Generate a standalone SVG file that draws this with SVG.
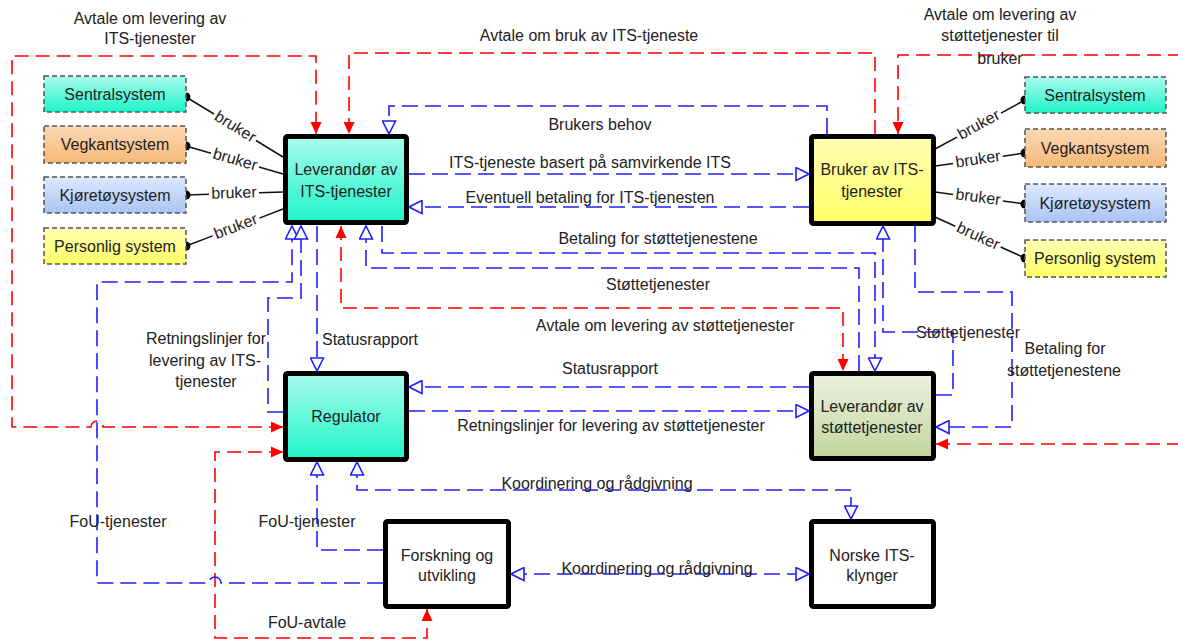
<svg xmlns="http://www.w3.org/2000/svg" width="1178" height="640" viewBox="0 0 1178 640">
  <style>
    text { font-family: "Liberation Sans", Arial, sans-serif; font-size: 16px; fill: #222; text-anchor: middle; }
    .node rect { stroke: #000; stroke-width: 5; }
    .sys rect { stroke: #555; stroke-width: 1.5; stroke-dasharray: 5 3; }
    .blue { fill: none; stroke: #1f1fff; stroke-width: 1.6; stroke-dasharray: 16 7; }
    .red { fill: none; stroke: #ff0000; stroke-width: 1.6; stroke-dasharray: 14 7; }
    .use line { stroke: #111; stroke-width: 1.5; }
    .use circle { fill: #000; }
  </style>
  <defs>
    <linearGradient id="gCyan" x1="0" y1="0" x2="0" y2="1">
      <stop offset="0" stop-color="#aafbec"/><stop offset="1" stop-color="#1ef5c8"/>
    </linearGradient>
    <linearGradient id="gYellow" x1="0" y1="0" x2="0" y2="1">
      <stop offset="0" stop-color="#ffffb4"/><stop offset="1" stop-color="#ffff66"/>
    </linearGradient>
    <linearGradient id="gGreen" x1="0" y1="0" x2="0" y2="1">
      <stop offset="0" stop-color="#ecf2e0"/><stop offset="1" stop-color="#c2d59c"/>
    </linearGradient>
    <linearGradient id="gOrange" x1="0" y1="0" x2="0" y2="1">
      <stop offset="0" stop-color="#fcd8b4"/><stop offset="1" stop-color="#f6b878"/>
    </linearGradient>
    <linearGradient id="gBlue" x1="0" y1="0" x2="0" y2="1">
      <stop offset="0" stop-color="#dfe9ff"/><stop offset="1" stop-color="#a8c3f4"/>
    </linearGradient>
    <marker id="ra" viewBox="0 0 12 12" refX="12" refY="6" markerWidth="12" markerHeight="12" markerUnits="userSpaceOnUse" orient="auto-start-reverse">
      <path d="M0,0.5 L12,6 L0,11.5 Z" fill="#ff0000"/>
    </marker>
    <marker id="ba" viewBox="0 0 15 15" refX="14" refY="7.5" markerWidth="15" markerHeight="15" markerUnits="userSpaceOnUse" orient="auto-start-reverse">
      <path d="M1,1 L14,7.5 L1,14 Z" fill="#fff" stroke="#1f1fff" stroke-width="1.6"/>
    </marker>
  </defs>

  <rect width="1178" height="640" fill="#fff"/>

  <!-- connectors -->
  <g id="connectors">
    <!-- agreements (red) -->
    <path class="red" d="M283,427 H103 A6,6 0 0 0 91,427 H12 V56 H316 V134" marker-start="url(#ra)" marker-end="url(#ra)"/>
    <path class="red" d="M875,134 V53 H349 V134" marker-end="url(#ra)"/>
    <path class="red" d="M936,444 H1190 V55 H898 V134" marker-start="url(#ra)" marker-end="url(#ra)"/>
    <path class="red" d="M341,226 V308 H843 V371" marker-start="url(#ra)" marker-end="url(#ra)"/>
    <path class="red" d="M283,452 H215 V638 H427 V609" marker-start="url(#ra)" marker-end="url(#ra)"/>

    <!-- services and information flows (blue) -->
    <path class="blue" d="M827,134 V106 H389 V134" marker-end="url(#ba)"/>
    <path class="blue" d="M409,174 H809" marker-end="url(#ba)"/>
    <path class="blue" d="M809,207 H409" marker-end="url(#ba)"/>
    <path class="blue" d="M382,226 V253 H875 V371" marker-end="url(#ba)"/>
    <path class="blue" d="M859,371 V268 H366 V226" marker-end="url(#ba)"/>
    <path class="blue" d="M936,395 H953 V332 H883 V226" marker-end="url(#ba)"/>
    <path class="blue" d="M915,226 V292 H1012 V427 H936" marker-end="url(#ba)"/>
    <path class="blue" d="M383,583 H221 A6,6 0 0 0 209,583 H97 V282 H292 V226" marker-end="url(#ba)"/>
    <path class="blue" d="M283,412 H268 V298 H301 V226" marker-end="url(#ba)"/>
    <path class="blue" d="M317,226 V371" marker-end="url(#ba)"/>
    <path class="blue" d="M809,387 H409" marker-end="url(#ba)"/>
    <path class="blue" d="M409,411 H809" marker-end="url(#ba)"/>
    <path class="blue" d="M383,550 H317 V462" marker-end="url(#ba)"/>
    <path class="blue" d="M357,462 V490 H851 V519" marker-start="url(#ba)" marker-end="url(#ba)"/>
    <path class="blue" d="M511,574 H809" marker-start="url(#ba)" marker-end="url(#ba)"/>

    <!-- "bruker" links, left side -->
    <g class="use">
      <line x1="186" y1="97" x2="214" y2="114"/><line x1="256" y1="140.5" x2="283" y2="157"/>
      <text transform="translate(235,127.3) rotate(31.7)" y="4.5">bruker</text>
      <line x1="186" y1="146" x2="211" y2="153.2"/><line x1="259" y1="167" x2="283" y2="174"/>
      <text transform="translate(235,160.1) rotate(16.1)" y="4.5">bruker</text>
      <line x1="186" y1="195" x2="209" y2="194.3"/><line x1="259" y1="192.7" x2="283" y2="192"/>
      <text transform="translate(234,193.5) rotate(-1.8)" y="4.5">bruker</text>
      <line x1="186" y1="246" x2="212.6" y2="235.9"/><line x1="259.4" y1="218.1" x2="283" y2="209"/>
      <text transform="translate(236,227) rotate(-20.9)" y="4.5">bruker</text>
      <circle cx="186" cy="97" r="4.5"/><circle cx="186" cy="146" r="4.5"/>
      <circle cx="186" cy="195" r="4.5"/><circle cx="186" cy="246" r="4.5"/>
    </g>
    <!-- "bruker" links, right side -->
    <g class="use">
      <line x1="935" y1="149" x2="957" y2="137.1"/><line x1="1001" y1="113.2" x2="1025" y2="100"/>
      <text transform="translate(979,125.1) rotate(-28.6)" y="4.5">bruker</text>
      <line x1="935" y1="166" x2="953.2" y2="163.4"/><line x1="1002.8" y1="156.2" x2="1025" y2="153"/>
      <text transform="translate(978,159.8) rotate(-8.2)" y="4.5">bruker</text>
      <line x1="935" y1="192" x2="953.2" y2="194.4"/><line x1="1002.8" y1="201" x2="1025" y2="204"/>
      <text transform="translate(978,197.7) rotate(7.6)" y="4.5">bruker</text>
      <line x1="935" y1="217" x2="955.3" y2="226.2"/><line x1="1000.7" y1="247" x2="1025" y2="258"/>
      <text transform="translate(978,236.6) rotate(24.5)" y="4.5">bruker</text>
      <circle cx="1025" cy="100" r="4.5"/><circle cx="1025" cy="153" r="4.5"/>
      <circle cx="1025" cy="204" r="4.5"/><circle cx="1025" cy="258" r="4.5"/>
    </g>

    <!-- connector labels -->
    <g id="labels">
      <text x="150" y="24">Avtale om levering av</text>
      <text x="150" y="44">ITS-tjenester</text>
      <text x="589" y="41">Avtale om bruk av ITS-tjeneste</text>
      <text x="1000" y="20">Avtale om levering av</text>
      <text x="1000" y="41">støttetjenester til</text>
      <text x="1000" y="64">bruker</text>
      <text x="600" y="130">Brukers behov</text>
      <text x="590" y="168">ITS-tjeneste basert på samvirkende ITS</text>
      <text x="590" y="203">Eventuell betaling for ITS-tjenesten</text>
      <text x="658" y="244">Betaling for støttetjenestene</text>
      <text x="658" y="290">Støttetjenester</text>
      <text x="665" y="331">Avtale om levering av støttetjenester</text>
      <text x="322" y="345" style="text-anchor:start">Statusrapport</text>
      <text x="206" y="344">Retningslinjer for</text>
      <text x="205" y="366">levering av ITS-</text>
      <text x="206" y="387">tjenester</text>
      <text x="610" y="374">Statusrapport</text>
      <text x="611" y="431">Retningslinjer for levering av støttetjenester</text>
      <text x="968" y="338">Støttetjenester</text>
      <text x="1065" y="354">Betaling for</text>
      <text x="1064" y="376">støttetjenestene</text>
      <text x="597" y="489">Koordinering og rådgivning</text>
      <text x="657" y="574">Koordinering og rådgivning</text>
      <text x="118" y="527">FoU-tjenester</text>
      <text x="307" y="527">FoU-tjenester</text>
      <text x="307" y="628">FoU-avtale</text>
    </g>
  </g>

  <!-- systems used by the service provider -->
  <g id="sys-l-sentral" class="sys"><rect x="44" y="76" width="142" height="36" fill="url(#gCyan)"/><text x="115" y="100">Sentralsystem</text></g>
  <g id="sys-l-vegkant" class="sys"><rect x="44" y="126" width="142" height="37" fill="url(#gOrange)"/><text x="115" y="150">Vegkantsystem</text></g>
  <g id="sys-l-kjoretoy" class="sys"><rect x="44" y="177" width="142" height="36" fill="url(#gBlue)"/><text x="115" y="201">Kjøretøysystem</text></g>
  <g id="sys-l-personlig" class="sys"><rect x="44" y="228" width="142" height="36" fill="url(#gYellow)"/><text x="115" y="252">Personlig system</text></g>

  <!-- systems used by the service user -->
  <g id="sys-r-sentral" class="sys"><rect x="1025" y="77" width="141" height="36" fill="url(#gCyan)"/><text x="1095" y="101">Sentralsystem</text></g>
  <g id="sys-r-vegkant" class="sys"><rect x="1025" y="129" width="141" height="38" fill="url(#gOrange)"/><text x="1095" y="154">Vegkantsystem</text></g>
  <g id="sys-r-kjoretoy" class="sys"><rect x="1025" y="184" width="141" height="38" fill="url(#gBlue)"/><text x="1095" y="209">Kjøretøysystem</text></g>
  <g id="sys-r-personlig" class="sys"><rect x="1025" y="240" width="141" height="37" fill="url(#gYellow)"/><text x="1095" y="264">Personlig system</text></g>

  <!-- main actors -->
  <g id="leverandor-its" class="node">
    <rect x="285.5" y="136.5" width="121" height="86" rx="2" fill="url(#gCyan)"/>
    <text x="346" y="175">Leverandør av</text>
    <text x="346" y="197">ITS-tjenester</text>
  </g>
  <g id="bruker-its" class="node">
    <rect x="811.5" y="136.5" width="122" height="87" rx="2" fill="url(#gYellow)"/>
    <text x="872" y="175">Bruker av ITS-</text>
    <text x="872" y="197">tjenester</text>
  </g>
  <g id="regulator" class="node">
    <rect x="285.5" y="373.5" width="121" height="86" rx="2" fill="url(#gCyan)"/>
    <text x="346" y="422">Regulator</text>
  </g>
  <g id="leverandor-stotte" class="node">
    <rect x="811.5" y="373.5" width="122" height="85" rx="2" fill="url(#gGreen)"/>
    <text x="872" y="412">Leverandør av</text>
    <text x="872" y="433">støttetjenester</text>
  </g>
  <g id="forskning" class="node">
    <rect x="385.5" y="521.5" width="123" height="85" rx="2" fill="#fff"/>
    <text x="447" y="561">Forskning og</text>
    <text x="447" y="581">utvikling</text>
  </g>
  <g id="klynger" class="node">
    <rect x="811.5" y="521.5" width="122" height="85" rx="2" fill="#fff"/>
    <text x="872" y="561">Norske ITS-</text>
    <text x="872" y="581">klynger</text>
  </g>
</svg>
